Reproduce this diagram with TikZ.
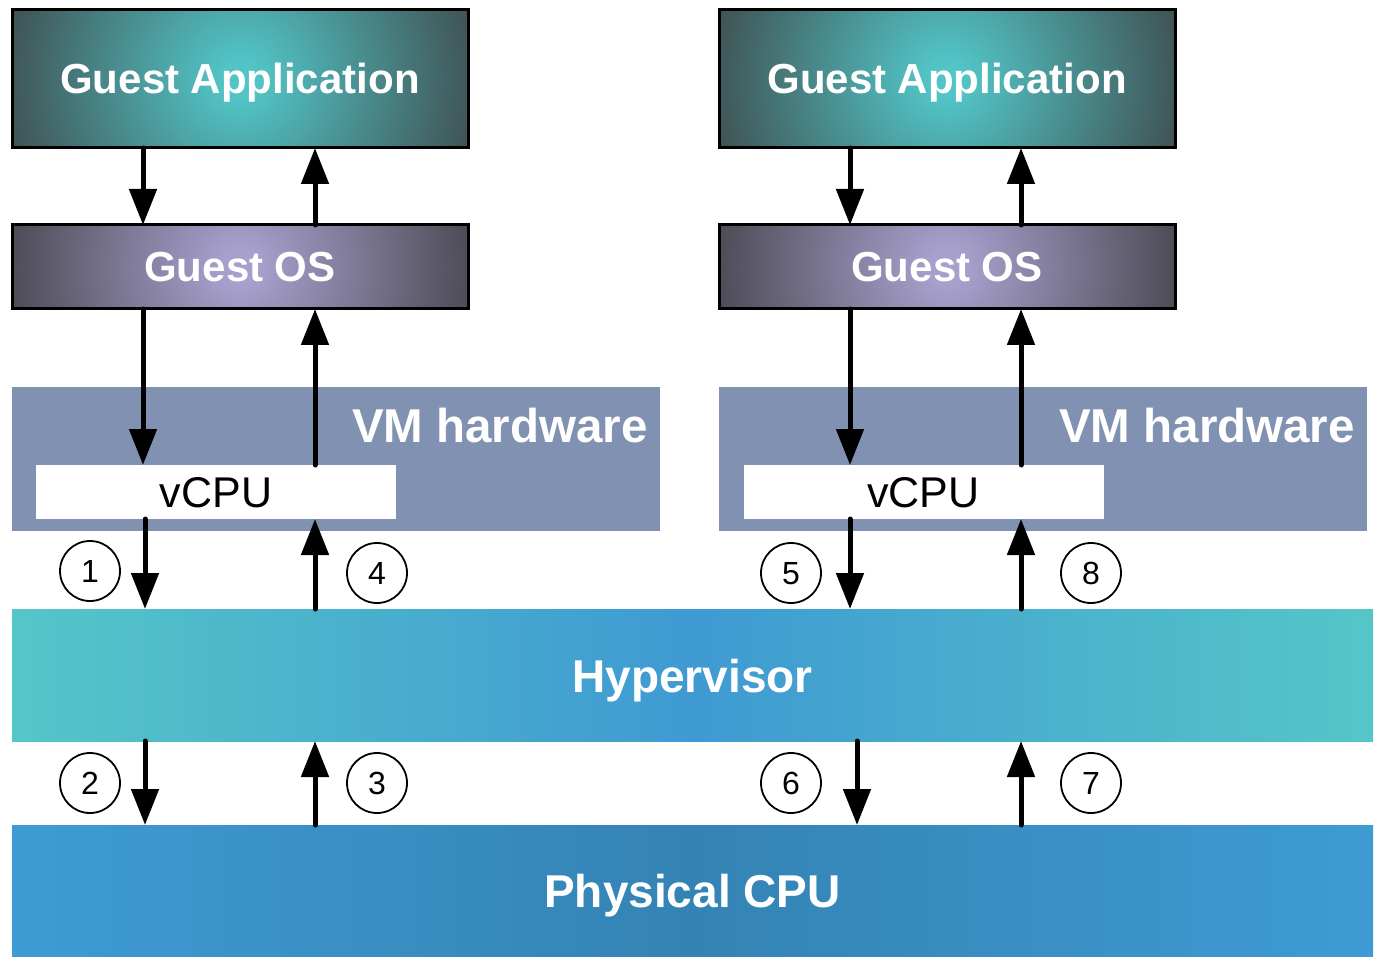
\documentclass[tikz,border=0pt]{standalone}
\usepackage{fontspec}
\setmainfont{Liberation Sans}
\usetikzlibrary{arrows.meta,backgrounds}
\definecolor{appIn}{HTML}{52C4C6}
\definecolor{appOut}{HTML}{3E4546}
\definecolor{osIn}{HTML}{A7A0CD}
\definecolor{osOut}{HTML}{434248}
\definecolor{vmcol}{HTML}{8191B1}
\definecolor{hypEdge}{HTML}{55C6C8}
\definecolor{hypMid}{HTML}{3F9AD2}
\definecolor{physEdge}{HTML}{3F9BD4}
\definecolor{physMid}{HTML}{3483B4}
\pgfdeclareradialshading{appsh}{\pgfpoint{0bp}{0bp}}{color(0bp)=(appIn); color(1.5bp)=(appIn); color(22bp)=(appOut); color(25bp)=(appOut); color(50bp)=(appOut)}
\pgfdeclareradialshading{ossh}{\pgfpoint{0bp}{0bp}}{color(0bp)=(osIn); color(1.5bp)=(osIn); color(22bp)=(osOut); color(25bp)=(osOut); color(50bp)=(osOut)}
\begin{document}
\begin{tikzpicture}[x=1pt,y=-1pt,
  topbox/.style={draw=black, line width=3pt, inner sep=0pt, outer sep=0pt,
    minimum width=456pt, text=white,
    font=\fontsize{42}{42}\selectfont\bfseries, text height=30pt, text depth=0pt},
  vmbox/.style={fill=vmcol, inner sep=0pt, outer sep=0pt, minimum width=648pt, minimum height=144pt},
  vmlabel/.style={anchor=east, inner sep=0pt, text=white,
    font=\fontsize{47.5}{47.5}\selectfont\bfseries, text height=34pt, text depth=0pt},
  cpubox/.style={fill=white, inner sep=0pt, outer sep=0pt, minimum width=360pt, minimum height=54pt,
    font=\fontsize{43}{43}\selectfont, text height=31pt, text depth=0pt},
  band/.style={inner sep=0pt, outer sep=0pt, minimum width=1361pt, text=white,
    font=\fontsize{46}{46}\selectfont\bfseries, text height=34pt, text depth=0pt},
  numc/.style={circle, draw=black, line width=1.8pt, minimum size=60pt, inner sep=0pt,
    font=\fontsize{32}{32}\selectfont, text height=23pt, text depth=0pt},
  arr/.style={line width=5pt, line cap=round, -{Triangle[length=36pt,width=27pt]}}
]
\begin{scope}[on background layer]
  \fill[white] (0,0) rectangle (1382,968);
\end{scope}
\useasboundingbox (0,0) rectangle (1382,968);

% top boxes
\node[topbox, minimum height=138pt] (appL) at (240,79) {Guest Application};
\node[topbox, minimum height=138pt] (appR) at (947,79) {Guest Application};
\node[topbox, minimum height=84pt] (osL) at (240,267) {Guest OS};
\node[topbox, minimum height=84pt] (osR) at (947,267) {Guest OS};

\begin{scope}[on background layer]
  \begin{scope}
    \clip (appL.south west) rectangle (appL.north east);
    \shade[shading=appsh] (appL.center) circle[radius=300];
  \end{scope}
  \begin{scope}
    \clip (appR.south west) rectangle (appR.north east);
    \shade[shading=appsh] (appR.center) circle[radius=300];
  \end{scope}
  \begin{scope}
    \clip (osL.south west) rectangle (osL.north east);
    \shade[shading=ossh] (osL.center) circle[radius=290];
  \end{scope}
  \begin{scope}
    \clip (osR.south west) rectangle (osR.north east);
    \shade[shading=ossh] (osR.center) circle[radius=290];
  \end{scope}
\end{scope}

% VM hardware
\node[vmbox] (vmL) at (336,459) {};
\node[vmbox] (vmR) at (1043,459) {};
\node[vmlabel] (vmtL) at (648,425) {VM hardware};
\node[vmlabel] (vmtR) at (1355,425) {VM hardware};
\node[cpubox] (cpuL) at (216,492) {vCPU};
\node[cpubox] (cpuR) at (923.5,492) {vCPU};

% bands
\node[band, minimum height=132pt, left color=hypEdge, right color=hypEdge, middle color=hypMid] (hyp) at (692.5,675) {Hypervisor};
\node[band, minimum height=131pt, left color=physEdge, right color=physEdge, middle color=physMid] (phys) at (692.5,890.5) {Physical CPU};

% column coordinates
\coordinate (xa) at (143,0);
\coordinate (xa2) at (145,0);
\coordinate (xb) at (315,0);
\coordinate (xc) at (850,0);
\coordinate (xc2) at (857,0);
\coordinate (xd) at (1021,0);

% arrows left
\draw[arr] (xa |- appL.south) -- (xa |- osL.north);
\draw[arr] (xb |- osL.north) -- (xb |- appL.south);
\draw[arr] (xa |- osL.south) -- (xa |- cpuL.north);
\draw[arr] (xb |- cpuL.north) -- (xb |- osL.south);
\draw[arr] (xa2 |- cpuL.south) -- (xa2 |- hyp.north);
\draw[arr] (xb |- hyp.north) -- (xb |- cpuL.south);
\draw[arr] (xa2 |- hyp.south) -- (xa2 |- phys.north);
\draw[arr] (xb |- phys.north) -- (xb |- hyp.south);
% arrows right
\draw[arr] (xc |- appR.south) -- (xc |- osR.north);
\draw[arr] (xd |- osR.north) -- (xd |- appR.south);
\draw[arr] (xc |- osR.south) -- (xc |- cpuR.north);
\draw[arr] (xd |- cpuR.north) -- (xd |- osR.south);
\draw[arr] (xc |- cpuR.south) -- (xc |- hyp.north);
\draw[arr] (xd |- hyp.north) -- (xd |- cpuR.south);
\draw[arr] (xc2 |- hyp.south) -- (xc2 |- phys.north);
\draw[arr] (xd |- phys.north) -- (xd |- hyp.south);

% numbers
\node[numc] (n1) at (90,571) {1};
\node[numc] (n4) at (377,573) {4};
\node[numc] (n5) at (791,573) {5};
\node[numc] (n8) at (1091,573) {8};
\node[numc] (n2) at (90,783) {2};
\node[numc] (n3) at (377,783) {3};
\node[numc] (n6) at (791,783) {6};
\node[numc] (n7) at (1091,783) {7};
\end{tikzpicture}
\end{document}
